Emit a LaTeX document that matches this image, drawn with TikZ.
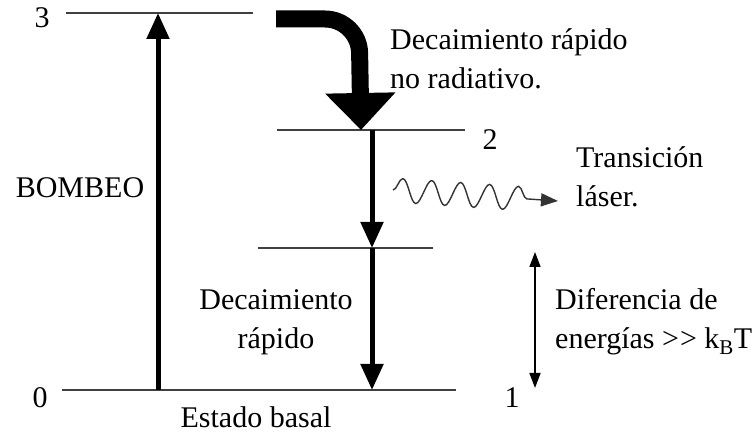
\documentclass[tikz,border=0pt]{standalone}
\usepackage{fontspec}
\setmainfont{Liberation Serif}
\usetikzlibrary{arrows.meta,decorations.pathmorphing}
\begin{document}
\begin{tikzpicture}[x=1pt,y=-1pt,
  level/.style={draw=black!75, line width=1.6pt},
  thickarr/.style={line width=5pt, -{Triangle[width=22pt 0 0,length=26pt 0 0]}},
  lbl/.style={font=\fontsize{30}{38}\selectfont, inner sep=0pt, anchor=base},
  txt/.style={font=\fontsize{30}{39}\selectfont, inner sep=0pt, align=left}]
\useasboundingbox (0,0) rectangle (756,435);
% levels
\coordinate (L3a) at (66,13);  \coordinate (L3b) at (253,13);
\coordinate (L2a) at (277,130); \coordinate (L2b) at (465,130);
\coordinate (Lma) at (258,248); \coordinate (Lmb) at (433,248);
\coordinate (L0a) at (62,390);  \coordinate (L0b) at (456,390);
\draw[level] (L3a) -- (L3b);
\draw[level] (L2a) -- (L2b);
\draw[level] (Lma) -- (Lmb);
\draw[level] (L0a) -- (L0b);
\node[lbl] (n3) at (42,28) {3};
\node[lbl] (n2) at (490,150) {2};
\node[lbl] (n0) at (40,408) {0};
\node[lbl] (n1) at (512,408) {1};
% pump
\coordinate (p0) at (158,390); \coordinate (p3) at (158,13);
\draw[thickarr] (p0) -- (p3);
\node[lbl] (bombeo) at (80,198) {BOMBEO};
% big non-radiative arrow
\coordinate (c0) at (276,19); \coordinate (c1) at (359,19); \coordinate (c2) at (361,130);
\draw[line width=17pt, rounded corners=34pt, -{Triangle[width=68pt 0 0,length=37pt 0 0]}] (c0) -- (c1) -- (c2);
\node[txt, anchor=base west] (dnr) at (390,89) {Decaimiento rápido\\no radiativo.};
% fast decays
\coordinate (d2) at (372,130); \coordinate (dm) at (372,248); \coordinate (d0) at (372,390);
\draw[thickarr] (d2) -- (dm);
\draw[thickarr] (dm) -- (d0);
\node[txt, align=center, anchor=base] (dr) at (276,349) {Decaimiento\\rápido};
% laser
\coordinate (w1) at (393,190); \coordinate (w2) at (558,201);
\draw[line width=1.4pt, black!80, decorate, decoration={snake, segment length=29pt, amplitude=12pt, post length=20pt},
  -{Triangle[width=13pt 0 0,length=17pt 0 0]}] (w1) -- (w2);
\node[txt, anchor=base west] (tl) at (576,207) {Transición\\láser.};
% energy difference
\coordinate (e1) at (535,252); \coordinate (e0) at (535,388);
\draw[line width=1.6pt, {Triangle[width=11pt 0 0,length=15pt 0 0]}-{Triangle[width=11pt 0 0,length=15pt 0 0]}] (e1) -- (e0);
\node[txt, anchor=base west] (ed) at (555,349) {Diferencia de\\energías >\kern1pt> k\textsubscript{B}T};
\node[lbl] (eb) at (256,428) {Estado basal};
\end{tikzpicture}
\end{document}
